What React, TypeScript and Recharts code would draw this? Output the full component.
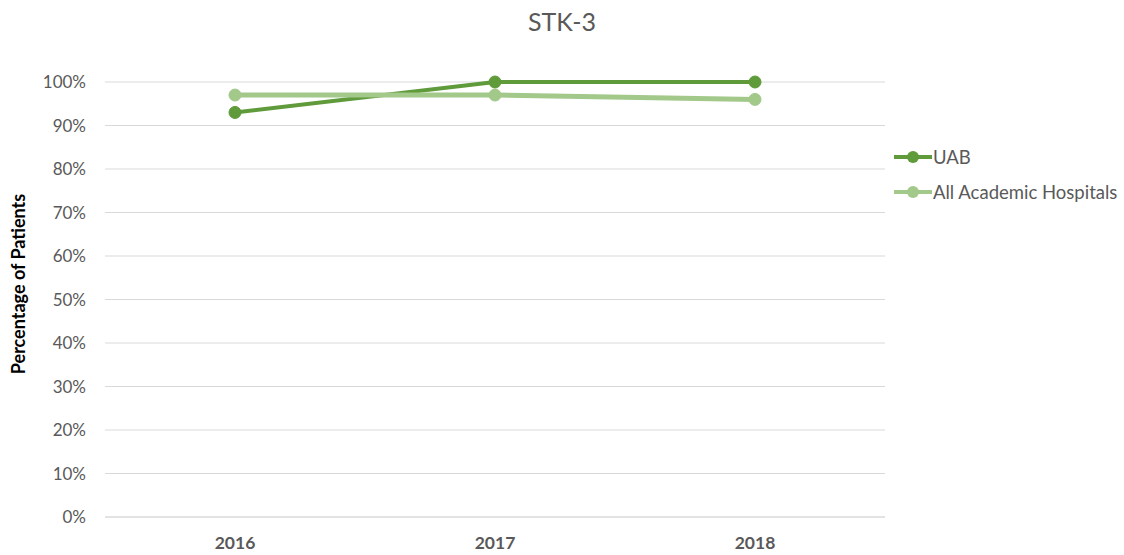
import React from "react";
import { LineChart, Line, XAxis, YAxis, CartesianGrid } from "recharts";

const years = ["2016", "2017", "2018"];
const uab = [93, 100, 100];
const allAcademic = [97, 97, 96];
const yTicks = [0, 10, 20, 30, 40, 50, 60, 70, 80, 90, 100];

const data = years.map((y, i) => ({ year: y, uab: uab[i], all: allAcademic[i] }));

const DARK = "#5f9a3b";
const LIGHT = "#a2c88a";
const FONT = "Lato, 'Open Sans', sans-serif";

export default function App() {
  return (
    <div style={{ position: "absolute", left: 0, top: 0, width: 1124, height: 555, background: "#fff", fontFamily: FONT }}>
      <div style={{ position: "absolute", left: 0, width: 1124, top: 6, textAlign: "center", fontSize: 25, color: "#595959" }}>STK-3</div>
      <div style={{ position: "absolute", left: 18, top: 284, transform: "translate(-50%,-50%) rotate(-90deg)", whiteSpace: "nowrap", fontSize: 18, fontWeight: 700, color: "#000" }}>
        Percentage of Patients
      </div>
      <LineChart width={1124} height={555} data={data} margin={{ top: 82, right: 239, bottom: 0, left: 0 }}>
        <CartesianGrid vertical={false} stroke="#d9d9d9" strokeWidth={1} />
        <XAxis
          dataKey="year"
          height={38}
          axisLine={{ stroke: "#d9d9d9" }}
          tickLine={false}
          padding={{ left: 130, right: 130 }}
          tick={{ fill: "#595959", fontSize: 17.5, fontWeight: 700, fontFamily: FONT }}
          tickMargin={14}
          interval={0}
        />
        <YAxis
          width={105}
          domain={[0, 100]}
          ticks={yTicks}
          tickFormatter={(v: number) => `${v}%`}
          axisLine={false}
          tickLine={false}
          tickSize={0}
          tickMargin={19}
          tick={{ fill: "#595959", fontSize: 17, fontFamily: FONT }}
          interval={0}
        />
        <Line dataKey="uab" stroke={DARK} strokeWidth={4} dot={{ r: 6, fill: DARK, stroke: DARK, strokeWidth: 1 }} isAnimationActive={false} />
        <Line dataKey="all" stroke={LIGHT} strokeWidth={5} dot={{ r: 6, fill: LIGHT, stroke: LIGHT, strokeWidth: 1 }} isAnimationActive={false} />
      </LineChart>
      {[{ label: "UAB", color: DARK, y: 157 }, { label: "All Academic Hospitals", color: LIGHT, y: 192 }].map((l) => (
        <div key={l.label} style={{ position: "absolute", left: 894, top: l.y - 12, height: 24, display: "flex", alignItems: "center" }}>
          <svg width={38} height={14} style={{ display: "block" }}>
            <line x1={0} y1={7} x2={38} y2={7} stroke={l.color} strokeWidth={4} />
            <circle cx={19} cy={7} r={6} fill={l.color} />
          </svg>
          <span style={{ fontSize: 18.5, color: "#595959", marginLeft: 1 }}>{l.label}</span>
        </div>
      ))}
    </div>
  );
}
